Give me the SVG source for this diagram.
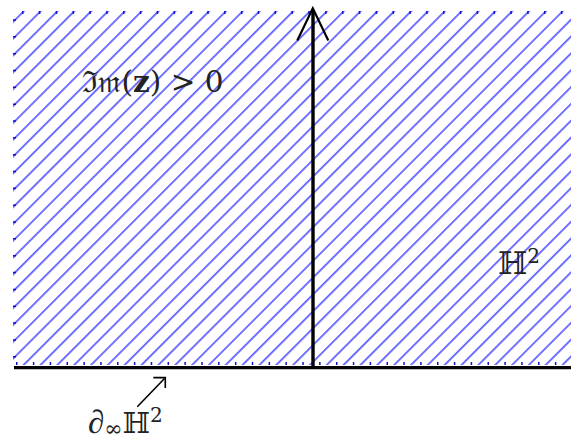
<svg xmlns="http://www.w3.org/2000/svg" width="571" height="444" viewBox="0 0 571 444">
<style>
.lbl{font-family:"DejaVu Serif","Liberation Serif","Noto Sans",serif;fill:#222}
.tick{fill:none;stroke:#1010d0;stroke-width:3;stroke-dasharray:1.5 15.34}
.ax{stroke:#000;fill:none;stroke-linecap:butt}
</style>
<defs>
<pattern id="hatch" patternUnits="userSpaceOnUse" width="11.908" height="10" patternTransform="rotate(45)">
<line x1="0.9" y1="-1" x2="0.9" y2="11" stroke="#4f4fff" stroke-width="1.6"/>
</pattern>
</defs>
<g id="region">
<rect x="13" y="11" width="558" height="354" fill="url(#hatch)"/>
<line class="tick" x1="22" y1="12.5" x2="571" y2="12.5"/>
<line class="tick" x1="14.5" y1="19.2" x2="14.5" y2="365"/>
<line class="tick" x1="16" y1="363.5" x2="571" y2="363.5"/>
</g>
<g id="connectors">
<line class="ax" x1="14" y1="367.7" x2="571" y2="367.7" stroke-width="3.2"/>
<line class="ax" x1="313" y1="367.7" x2="313" y2="10" stroke-width="3.4"/>
<path class="ax" d="M297.3,40.5 L312.8,8.3 L328.3,40.5" stroke-width="2.2" stroke-linejoin="miter"/>
<line class="ax" x1="137.3" y1="406.7" x2="164.5" y2="378.5" stroke-width="1.6"/>
<path class="ax" d="M153.3,377.6 L165.3,377.6 L165.3,388" stroke-width="1.6"/>
</g>
<g id="label-im">
<text class="lbl" x="82" y="92" font-size="29.5">ℑ𝔪(<tspan font-weight="bold">z</tspan>) &gt; 0</text>
</g>
<g id="label-h2">
<text class="lbl" x="498" y="274" font-size="31">ℍ<tspan font-size="20" dy="-11">2</tspan></text>
</g>
<g id="label-boundary">
<text class="lbl" x="88" y="433" font-size="29"><tspan font-family="Liberation Serif" font-style="italic" font-size="33">∂</tspan><tspan font-size="22" dy="3">∞</tspan><tspan dy="-3">ℍ</tspan><tspan font-size="20" dy="-11">2</tspan></text>
</g>
</svg>
